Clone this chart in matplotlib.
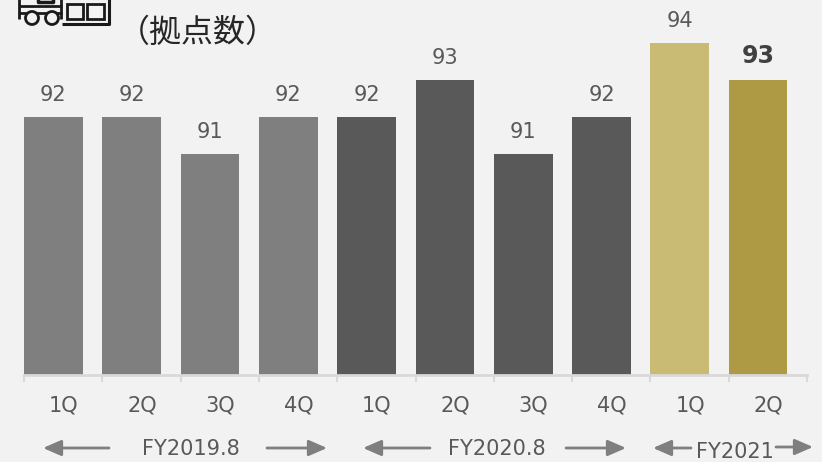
"""Quarterly site count bars with fiscal year spans underneath."""

import matplotlib
matplotlib.use("Agg")
import matplotlib.pyplot as plt
from matplotlib.patches import Circle, Rectangle

W, H = 822, 462
BG = "#f2f2f2"
TEXT = "#595959"
ARROW = "#7f7f7f"

quarters = ["1Q", "2Q", "3Q", "4Q", "1Q", "2Q", "3Q", "4Q", "1Q", "2Q"]
sites = [92, 92, 91, 92, 92, 93, 91, 92, 94, 93]
bar_colors = ["#7f7f7f"] * 4 + ["#595959"] * 4 + ["#c9ba74", "#ae9a45"]
fy_labels = ["FY2019.8", "FY2020.8", "FY2021"]

fig = plt.figure(figsize=(W / 100, H / 100), dpi=100, facecolor=BG)

# ------------------------------------------------------------------- bars
AXIS_Y = 375
BASE = 85.03
ax = fig.add_axes([24 / W, 1 - AXIS_Y / H, 783 / W, AXIS_Y / H])
ax.set_facecolor("none")
ax.set_xlim(0, 10)
ax.set_ylim(BASE, BASE + AXIS_Y / 37)

for i, (v, c) in enumerate(zip(sites, bar_colors)):
    ax.bar(i + 0.375, v - BASE, width=0.75, bottom=BASE, color=c, linewidth=0)
    bold = i == len(sites) - 1
    ax.annotate(str(v), (i + 0.375, v), xytext=(0, 9), textcoords="offset points",
                ha="center", va="bottom", color="#404040" if bold else TEXT,
                fontsize=17 if bold else 15, fontweight="bold" if bold else "normal")

for s in ("top", "left", "right"):
    ax.spines[s].set_visible(False)
ax.spines["bottom"].set_color("#d9d9d9")
ax.spines["bottom"].set_linewidth(2)
ax.set_yticks([])
ax.set_xticks(range(11))
ax.set_xticklabels([])
ax.tick_params(axis="x", direction="out", length=5, width=1.5, color="#d9d9d9")
for i, q in enumerate(quarters):
    ax.annotate(q, (i + 0.5, BASE), xytext=(0.4, -22), textcoords="offset points",
                ha="center", va="center", color=TEXT, fontsize=15)

# --------------------------------------------------------------- overlay
over = fig.add_axes([0, 0, 1, 1])
over.set_xlim(0, W)
over.set_ylim(H, 0)
over.axis("off")
over.patch.set_alpha(0)

over.text(198, 33, "（拠点数）", family=["Noto Sans CJK JP", "DejaVu Sans"], fontsize=23,
          color="#262626", ha="center", va="center")


def arrow(x0, x1, y=448):
    over.annotate("", xy=(x1, y), xytext=(x0, y),
                  arrowprops=dict(arrowstyle="-|>,head_length=1.1,head_width=0.48",
                                  color=ARROW, lw=2, shrinkA=0, shrinkB=0))


arrow(109, 43)
arrow(267, 327)
arrow(430, 363)
arrow(566, 626)
arrow(691, 653)
arrow(776, 813, 447)
over.text(191, 449, fy_labels[0], color=TEXT, fontsize=15, ha="center", va="center")
over.text(497, 449, fy_labels[1], color=TEXT, fontsize=15, ha="center", va="center")
over.text(735, 452, fy_labels[2], color=TEXT, fontsize=15, ha="center", va="center")

# warehouse and truck icon, cut off by the top edge
ICON = "#1a1a1a"
over.plot([19, 19], [-2, 19], color=ICON, lw=2, solid_capstyle="butt")
over.plot([19, 62], [6, 6], color=ICON, lw=2, solid_capstyle="butt")
over.plot([61, 61], [-2, 19], color=ICON, lw=2, solid_capstyle="butt")
over.plot([19, 62], [13, 13], color=ICON, lw=2, solid_capstyle="butt")
over.plot([38, 38, 53, 53], [-2, 2, 2, -2], color=ICON, lw=2.5, solid_capstyle="butt")
over.plot([62, 109, 109], [24, 24, -2], color=ICON, lw=2.2, solid_capstyle="butt")
for x0, x1 in ((67, 83), (87, 104)):
    over.add_patch(Rectangle((x0, 4), x1 - x0, 15, fill=False, ec=ICON, lw=2))
for cx in (32, 52):
    over.add_patch(Circle((cx, 18), 6.5, fc=BG, ec=ICON, lw=2, zorder=3))

fig.savefig("out.png", dpi=100, facecolor=BG)
